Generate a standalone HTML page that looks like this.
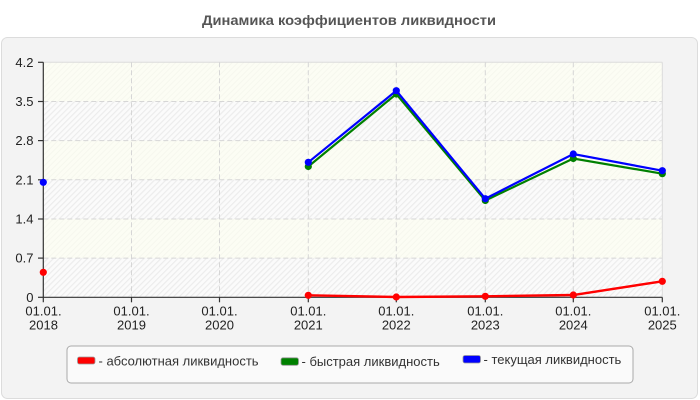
<!DOCTYPE html>
<html>
<head>
<meta charset="utf-8">
<style>
  html, body { margin: 0; padding: 0; background: #ffffff; }
  body { width: 700px; height: 400px; overflow: hidden; }
  svg { display: block; }
  text { font-family: "Liberation Sans", "DejaVu Sans", sans-serif; }
</style>
</head>
<body>
<svg width="700" height="400" viewBox="0 0 700 400" xmlns="http://www.w3.org/2000/svg">
  <defs>
    <pattern id="hatchW" width="4" height="4" patternUnits="userSpaceOnUse" patternTransform="rotate(45)">
      <rect width="4" height="4" fill="#fbfbfb"/>
      <rect width="1.2" height="4" fill="#ececec"/>
    </pattern>
    <pattern id="hatchC" width="4" height="4" patternUnits="userSpaceOnUse" patternTransform="rotate(45)">
      <rect width="4" height="4" fill="#fcfdf4"/>
      <rect width="1" height="4" fill="#f6f7ee"/>
    </pattern>
  </defs>

  <!-- Title -->
  <text x="349" y="25" text-anchor="middle" font-size="14" font-weight="bold" fill="#555555" textLength="294" lengthAdjust="spacingAndGlyphs">Динамика коэффициентов ликвидности</text>

  <!-- Outer panel -->
  <rect x="1.5" y="37.5" width="696" height="361" rx="6" ry="6" fill="#f3f3f3" stroke="#dcdcdc" stroke-width="1"/>

  <!-- Plot bands -->
  <rect x="43.3" y="62.3" width="619" height="39.2" fill="url(#hatchC)"/>
  <rect x="43.3" y="101.5" width="619" height="39.2" fill="url(#hatchW)"/>
  <rect x="43.3" y="140.6" width="619" height="39.2" fill="url(#hatchC)"/>
  <rect x="43.3" y="179.8" width="619" height="39.2" fill="url(#hatchW)"/>
  <rect x="43.3" y="219" width="619" height="39.2" fill="url(#hatchC)"/>
  <rect x="43.3" y="258.1" width="619" height="39.2" fill="url(#hatchW)"/>

  <!-- Plot border top/right -->
  <line x1="43.3" y1="62.3" x2="662.3" y2="62.3" stroke="#dcdcdc" stroke-width="1"/>
  <line x1="662.3" y1="62.3" x2="662.3" y2="297.3" stroke="#dcdcdc" stroke-width="1"/>

  <!-- Horizontal grid -->
  <g stroke="#d6d6d6" stroke-width="1" stroke-dasharray="5,3">
    <line x1="43.3" y1="101.5" x2="662.3" y2="101.5"/>
    <line x1="43.3" y1="140.6" x2="662.3" y2="140.6"/>
    <line x1="43.3" y1="179.8" x2="662.3" y2="179.8"/>
    <line x1="43.3" y1="219" x2="662.3" y2="219"/>
    <line x1="43.3" y1="258.1" x2="662.3" y2="258.1"/>
  </g>
  <!-- Vertical grid -->
  <g stroke="#d6d6d6" stroke-width="1" stroke-dasharray="5,3">
    <line x1="131.5" y1="62.3" x2="131.5" y2="297.3"/>
    <line x1="219.5" y1="62.3" x2="219.5" y2="297.3"/>
    <line x1="308.3" y1="62.3" x2="308.3" y2="297.3"/>
    <line x1="396.3" y1="62.3" x2="396.3" y2="297.3"/>
    <line x1="485.3" y1="62.3" x2="485.3" y2="297.3"/>
    <line x1="573.3" y1="62.3" x2="573.3" y2="297.3"/>
  </g>

  <!-- Axes -->
  <g stroke="#333333" stroke-width="1.2">
    <line x1="43.3" y1="62.3" x2="43.3" y2="302.3"/>
    <line x1="43.3" y1="297.3" x2="662.3" y2="297.3"/>
    <!-- y ticks -->
    <line x1="38" y1="62.3" x2="43.3" y2="62.3"/>
    <line x1="38" y1="101.5" x2="43.3" y2="101.5"/>
    <line x1="38" y1="140.6" x2="43.3" y2="140.6"/>
    <line x1="38" y1="179.8" x2="43.3" y2="179.8"/>
    <line x1="38" y1="219" x2="43.3" y2="219"/>
    <line x1="38" y1="258.1" x2="43.3" y2="258.1"/>
    <line x1="38" y1="297.3" x2="43.3" y2="297.3"/>
    <!-- x ticks -->
    <line x1="131.5" y1="297.3" x2="131.5" y2="302.3"/>
    <line x1="219.5" y1="297.3" x2="219.5" y2="302.3"/>
    <line x1="308.3" y1="297.3" x2="308.3" y2="302.3"/>
    <line x1="396.3" y1="297.3" x2="396.3" y2="302.3"/>
    <line x1="485.3" y1="297.3" x2="485.3" y2="302.3"/>
    <line x1="573.3" y1="297.3" x2="573.3" y2="302.3"/>
    <line x1="662.3" y1="297.3" x2="662.3" y2="302.3"/>
  </g>

  <!-- Y labels -->
  <g font-size="13" fill="#222222" text-anchor="end">
    <text x="33.5" y="66.8">4.2</text>
    <text x="33.5" y="106">3.5</text>
    <text x="33.5" y="145.1">2.8</text>
    <text x="33.5" y="184.3">2.1</text>
    <text x="33.5" y="223.5">1.4</text>
    <text x="33.5" y="262.6">0.7</text>
    <text x="33.5" y="301.8">0</text>
  </g>

  <!-- X labels -->
  <g font-size="13" fill="#222222" text-anchor="middle">
    <text x="43.5" y="315.5">01.01.</text><text x="43.5" y="329.5">2018</text>
    <text x="131.5" y="315.5">01.01.</text><text x="131.5" y="329.5">2019</text>
    <text x="219.5" y="315.5">01.01.</text><text x="219.5" y="329.5">2020</text>
    <text x="308.3" y="315.5">01.01.</text><text x="308.3" y="329.5">2021</text>
    <text x="396.3" y="315.5">01.01.</text><text x="396.3" y="329.5">2022</text>
    <text x="485.3" y="315.5">01.01.</text><text x="485.3" y="329.5">2023</text>
    <text x="573.3" y="315.5">01.01.</text><text x="573.3" y="329.5">2024</text>
    <text x="662.3" y="315.5">01.01.</text><text x="662.3" y="329.5">2025</text>
  </g>

  <!-- Series: green (быстрая) -->
  <polyline points="308.3,166.5 396.3,94 485.3,200.5 573.3,158.5 662.3,173.7" fill="none" stroke="#008000" stroke-width="2.2"/>
  <g fill="#008000">
    <circle cx="308.3" cy="166.5" r="3.6"/>
    <circle cx="396.3" cy="94" r="3.6"/>
    <circle cx="485.3" cy="200.5" r="3.6"/>
    <circle cx="573.3" cy="158.5" r="3.6"/>
    <circle cx="662.3" cy="173.7" r="3.6"/>
  </g>

  <!-- Series: blue (текущая) -->
  <polyline points="308.3,162.3 396.3,90.7 485.3,198.7 573.3,154 662.3,170.7" fill="none" stroke="#0000ff" stroke-width="2.2"/>
  <g fill="#0000ff">
    <circle cx="43.3" cy="182.3" r="3.6"/>
    <circle cx="308.3" cy="162.3" r="3.6"/>
    <circle cx="396.3" cy="90.7" r="3.6"/>
    <circle cx="485.3" cy="198.7" r="3.6"/>
    <circle cx="573.3" cy="154" r="3.6"/>
    <circle cx="662.3" cy="170.7" r="3.6"/>
  </g>

  <!-- Series: red (абсолютная) -->
  <polyline points="308.3,295.3 396.3,297 485.3,296.3 573.3,295 662.3,281.3" fill="none" stroke="#ff0000" stroke-width="2.4"/>
  <g fill="#ff0000">
    <circle cx="43.3" cy="272.3" r="3.6"/>
    <circle cx="308.3" cy="295.3" r="3.6"/>
    <circle cx="396.3" cy="297" r="3.6"/>
    <circle cx="485.3" cy="296.3" r="3.6"/>
    <circle cx="573.3" cy="295" r="3.6"/>
    <circle cx="662.3" cy="281.3" r="3.6"/>
  </g>

  <!-- Legend -->
  <rect x="67" y="346" width="566" height="37" rx="4" ry="4" fill="#fafafa" stroke="#aaaaaa" stroke-width="1"/>
  <rect x="77.5" y="357" width="17.5" height="7" rx="2" ry="2" fill="#ff0000" stroke="#999999" stroke-width="0.8"/>
  <text x="98.5" y="365.3" font-size="13" fill="#333333">- абсолютная ликвидность</text>
  <rect x="281" y="357.8" width="17.5" height="7.5" rx="2" ry="2" fill="#008000" stroke="#999999" stroke-width="0.8"/>
  <text x="301.5" y="366" font-size="13" fill="#333333">- быстрая ликвидность</text>
  <rect x="463" y="355.5" width="17.5" height="7.5" rx="2" ry="2" fill="#0000ff" stroke="#999999" stroke-width="0.8"/>
  <text x="483.5" y="364" font-size="13" fill="#333333">- текущая ликвидность</text>
</svg>
</body>
</html>
